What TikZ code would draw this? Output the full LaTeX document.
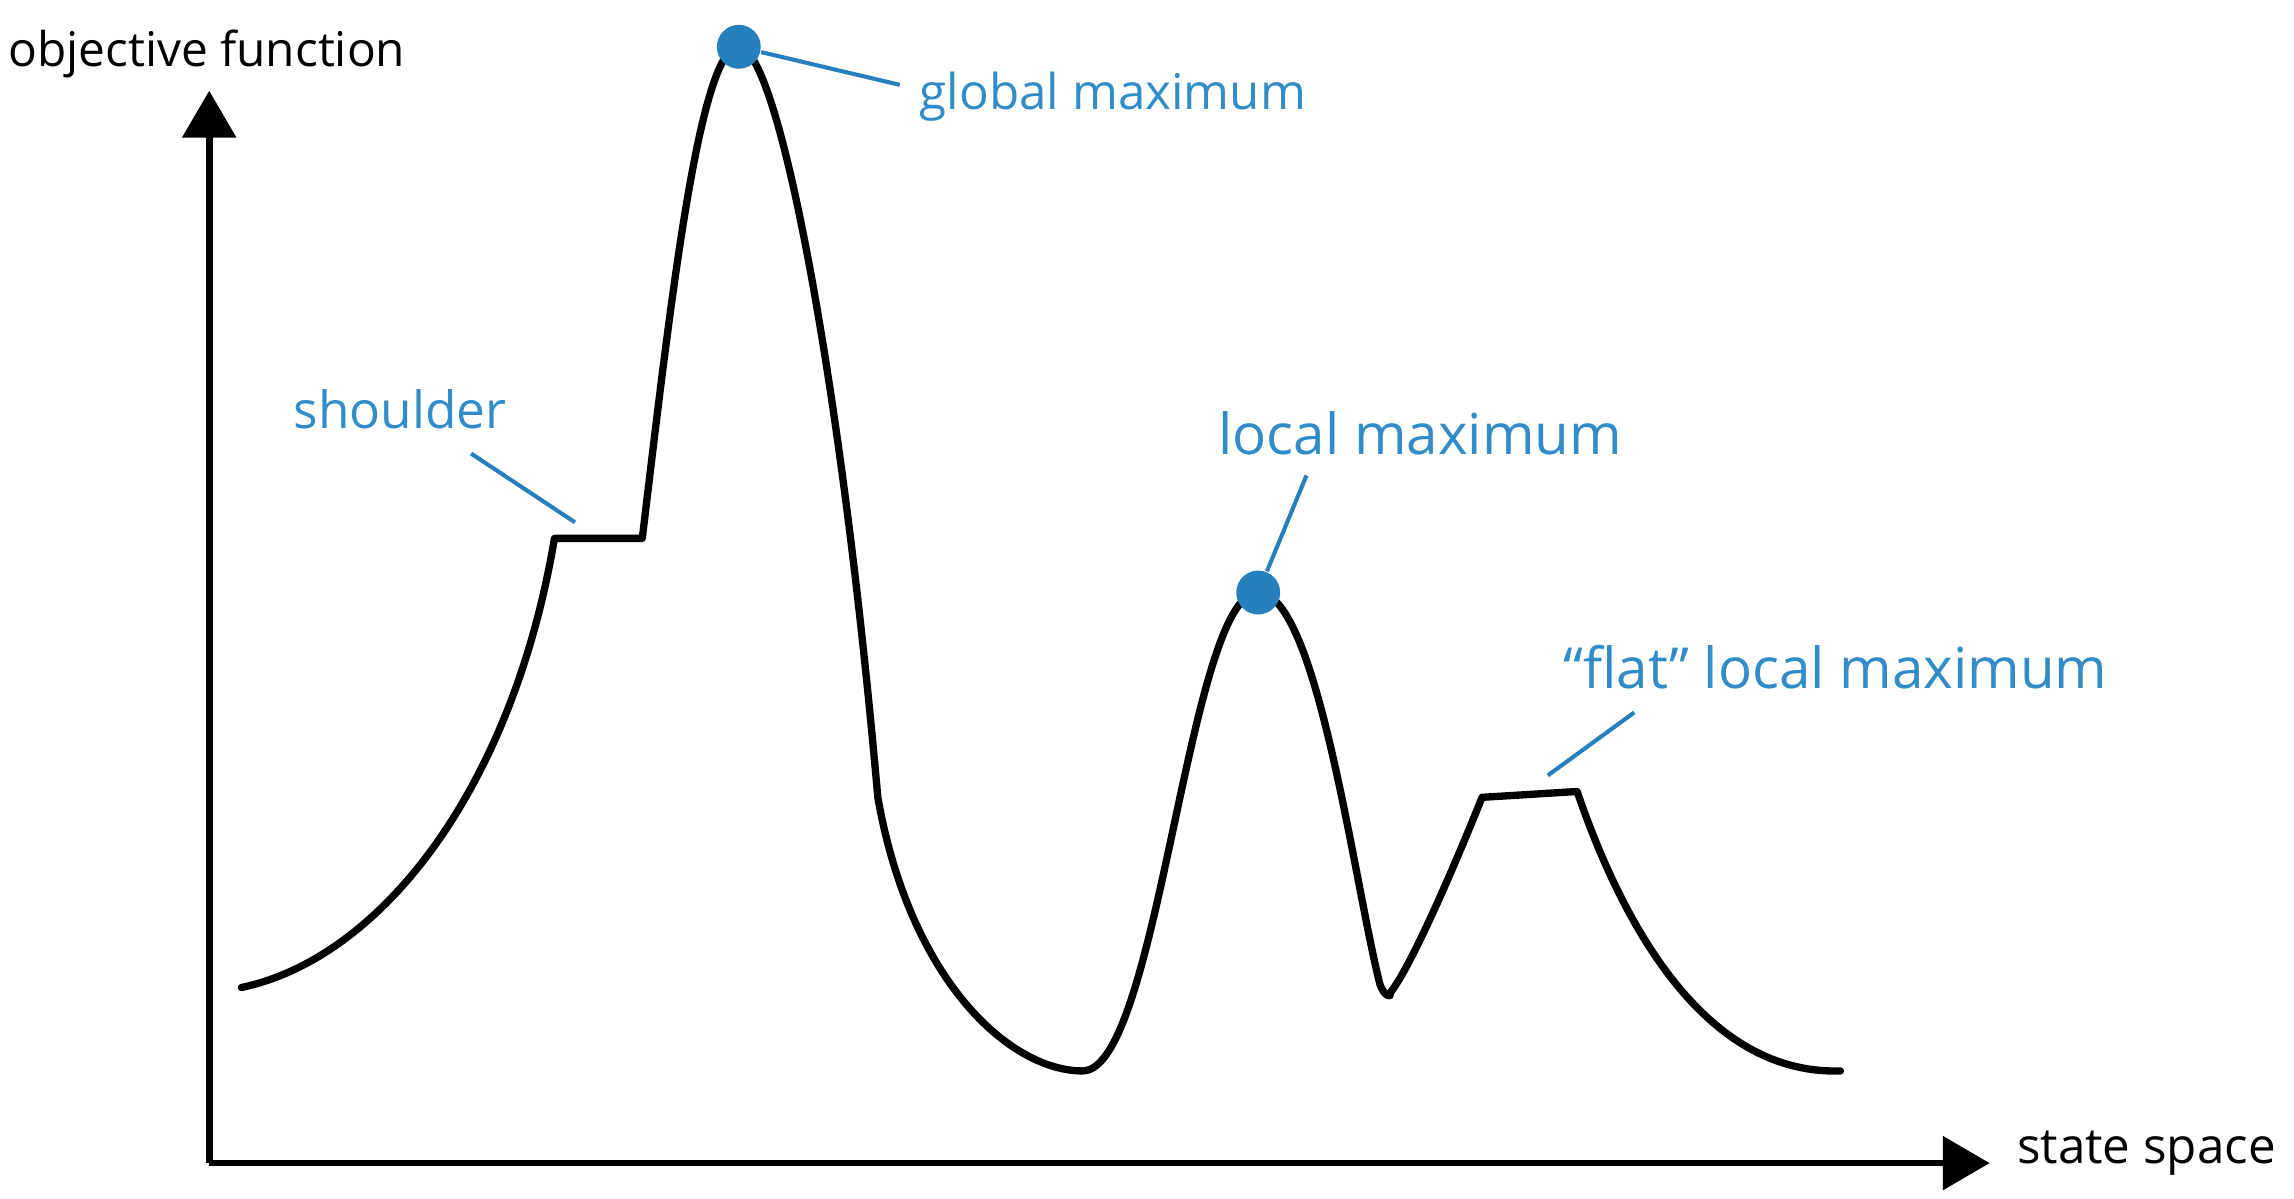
\documentclass[tikz,border=0pt]{standalone}
\usepackage{fontspec}
\setmainfont{Open Sans}
\usetikzlibrary{arrows.meta}
\definecolor{dotblue}{RGB}{38,128,190}
\definecolor{lblblue}{RGB}{50,140,200}
\begin{document}
\begin{tikzpicture}[x=0.1mm,y=-0.1mm,
  axis/.style={line width=0.45mm,-{Triangle[length=3.2mm,width=3.6mm]}},
  curve/.style={line width=0.5mm,line join=round,line cap=round},
  lead/.style={dotblue,line width=0.28mm},
  lbl/.style={lblblue,inner sep=0pt,anchor=west},
  axlbl/.style={black,inner sep=0pt,anchor=west},
  maxdot/.style={circle,fill=dotblue,minimum size=3.0mm,inner sep=0pt}]
\useasboundingbox (0,0) rectangle (1568,819);
% axes
\coordinate (O) at (143,795);
\coordinate (Ytop) at (143,62);
\coordinate (Xend) at (1360,795);
\draw[axis] (O) -- (Ytop);
\draw[axis] (O) -- (Xend);
\node[axlbl,font=\fontsize{9.3}{11}\selectfont] (ylab) at (5,37) {objective function};
\node[axlbl,font=\fontsize{9.6}{11}\selectfont] (xlab) at (1378,788) {state space};
% curve
\coordinate (c0) at (165,675);
\coordinate (sh1) at (379,368);
\coordinate (sh2) at (439,368);
\coordinate (gtop) at (505,32);
\coordinate (k1) at (600,545);
\coordinate (m1) at (740,732);
\coordinate (ltop) at (860,405);
\coordinate (m2) at (950,679);
\coordinate (f1) at (1013,545);
\coordinate (f2) at (1078,541);
\coordinate (cend) at (1258,732);
\draw[curve] (c0) .. controls (260,655) and (350,540) .. (sh1) -- (sh2)
  .. controls (458,210) and (478,32) .. (gtop)
  .. controls (532,32) and (575,260) .. (k1)
  .. controls (622,670) and (690,732) .. (m1)
  .. controls (792,732) and (812,405) .. (ltop)
  .. controls (900,405) and (925,600) .. (943,672)
  .. controls (946,682) and (952,682) .. (m2)
  .. controls (965,660) and (995,590) .. (f1) -- (f2)
  .. controls (1105,620) and (1160,735) .. (cend);
% maxima dots
\node[maxdot] (gmax) at (gtop) {};
\node[maxdot] (lmax) at (ltop) {};
% labels
\node[lbl,font=\fontsize{9.6}{11}\selectfont] (glab) at (628,66) {global maximum};
\node[lbl,font=\fontsize{10}{12}\selectfont] (shlab) at (200,280) {shoulder};
\node[lbl,font=\fontsize{11}{13}\selectfont] (llab) at (832,296) {local maximum};
\node[lbl,font=\fontsize{11}{13}\selectfont] (flab) at (1068,456) {“flat” local maximum};
% leaders
\coordinate (ge) at (615,58);
\coordinate (ss) at (322,310);
\coordinate (se) at (393,357);
\coordinate (le) at (893,325);
\coordinate (fs) at (1117,487);
\coordinate (fe) at (1058,530);
\draw[lead] (gmax) -- (ge);
\draw[lead] (ss) -- (se);
\draw[lead] (lmax) -- (le);
\draw[lead] (fs) -- (fe);
\end{tikzpicture}
\end{document}
